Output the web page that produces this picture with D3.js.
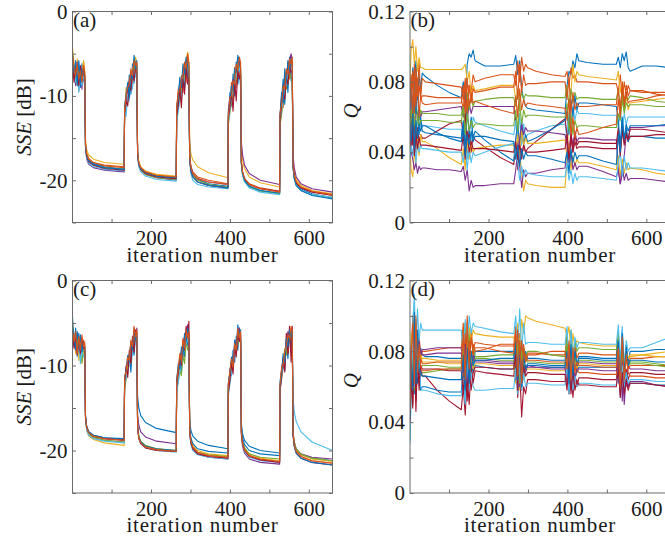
<!DOCTYPE html>
<html>
<head>
<meta charset="utf-8">
<script src="https://cdn.jsdelivr.net/npm/d3@7/dist/d3.min.js"></script>
<style>
  html, body { margin: 0; padding: 0; background: #fff; }
  svg { display: block; }
  svg text { font-family: "Liberation Serif", "Times New Roman", serif; }
</style>
</head>
<body>
<div id="chart"></div>
<script>
// MATLAB default line colour order
const lineColors = ["#0072BD", "#D95319", "#EDB120", "#7E2F8E", "#77AC30", "#4DBEEE", "#A2142F"];

// Iterations at which the SSE curves are sampled (5 training cycles)
const sseIter = [
  1, 5, 9, 13, 17, 21, 25, 29, 32, 34, 37, 42, 54, 82, 132,
  133, 137, 141, 145, 149, 153, 157, 161, 164, 166, 169, 174, 186, 214, 264,
  265, 269, 273, 277, 281, 285, 289, 293, 296, 298, 301, 306, 318, 346, 395,
  396, 400, 404, 408, 412, 416, 420, 424, 427, 429, 432, 437, 449, 477, 526,
  527, 531, 535, 539, 543, 547, 551, 555, 558, 560, 563, 568, 580, 608, 660
];

// Iterations at which the Q curves are sampled
const qIter = [
  1, 4, 8, 12, 16, 20, 24, 28, 32, 40, 70, 100,
  131, 136, 141, 146, 151, 156, 161, 166, 190, 230,
  264, 269, 274, 279, 284, 289, 294, 299, 320, 360,
  394, 399, 404, 409, 414, 419, 424, 429, 450, 490,
  524, 529, 534, 539, 544, 549, 554, 559, 590, 625, 660
];

// Axis ticks
const iterTicks = [100, 200, 300, 400, 500, 600];
const sseTicks = [-25, -20, -15, -10, -5, 0];
const qTicks = [0, 0.02, 0.04, 0.06, 0.08, 0.10, 0.12];

// (a) SSE [dB], one row per node
const sseA = [
  [-6.0,-7.5,-5.8,-8.2,-6.5,-9.0,-6.2,-8.0,-8.8,-15.8,-17.0,-17.6,-18.0,-18.4,-18.7,
   -12.0,-9.5,-10.8,-7.5,-9.8,-6.2,-8.5,-5.6,-7.0,-16.8,-18.0,-18.6,-19.1,-19.5,-19.8,
   -12.5,-10.0,-8.2,-10.5,-7.0,-9.2,-5.8,-7.8,-8.5,-17.2,-18.5,-19.3,-19.9,-20.4,-20.7,
   -12.8,-9.6,-11.2,-7.4,-10.0,-6.0,-8.6,-6.8,-9.0,-18.0,-19.2,-20.0,-20.7,-21.2,-21.6,
   -13.0,-10.2,-8.0,-11.0,-7.2,-9.6,-5.4,-8.2,-7.5,-18.4,-19.6,-20.4,-21.0,-21.6,-22.1],
  [-5.5,-8.0,-6.4,-7.2,-9.4,-6.8,-8.6,-6.0,-7.4,-15.6,-16.8,-17.4,-17.9,-18.2,-18.4,
   -11.5,-10.4,-8.6,-9.8,-6.8,-8.8,-5.8,-7.4,-6.2,-16.6,-17.9,-18.5,-19.0,-19.4,-19.6,
   -11.8,-9.2,-10.8,-7.6,-9.6,-6.4,-8.4,-5.2,-7.2,-17.0,-18.3,-19.0,-19.6,-20.0,-20.4,
   -13.0,-11.0,-8.4,-10.6,-6.6,-9.0,-5.6,-7.6,-6.4,-17.8,-19.0,-19.8,-20.4,-20.9,-21.3,
   -12.6,-9.8,-11.4,-7.6,-9.2,-6.0,-8.0,-5.2,-6.8,-18.2,-19.4,-20.2,-20.8,-21.3,-21.7],
  [-4.2,-6.2,-7.8,-5.6,-8.4,-6.6,-7.6,-5.8,-7.0,-15.2,-16.4,-17.0,-17.5,-17.9,-18.1,
   -12.2,-9.0,-10.2,-8.0,-8.8,-6.6,-7.2,-5.4,-6.6,-16.6,-17.8,-18.4,-18.9,-19.3,-19.5,
   -11.0,-10.4,-8.8,-9.0,-7.4,-6.8,-5.6,-4.8,-6.0,-15.4,-16.8,-17.6,-18.4,-19.1,-19.7,
   -12.2,-10.8,-9.2,-9.8,-7.2,-8.0,-6.2,-5.8,-6.6,-16.2,-17.6,-18.6,-19.6,-20.3,-20.8,
   -13.4,-11.2,-9.4,-8.6,-7.8,-7.0,-6.2,-5.6,-6.4,-17.8,-19.0,-19.9,-20.6,-21.2,-21.6],
  [-6.4,-7.0,-8.8,-6.0,-8.2,-7.4,-9.2,-6.6,-8.0,-16.2,-17.5,-18.1,-18.5,-18.8,-19.0,
   -12.6,-10.8,-9.2,-8.2,-7.6,-7.8,-6.4,-6.0,-6.8,-17.0,-18.2,-18.8,-19.3,-19.7,-20.0,
   -12.0,-11.0,-9.6,-8.6,-8.0,-6.6,-7.0,-5.4,-6.2,-17.2,-18.4,-19.2,-19.8,-20.2,-20.5,
   -11.6,-10.2,-9.8,-8.0,-8.4,-6.8,-6.6,-5.8,-7.6,-15.4,-17.0,-18.2,-19.2,-20.0,-20.5,
   -12.4,-10.6,-9.8,-8.6,-7.2,-6.6,-6.0,-5.0,-6.0,-17.0,-18.5,-19.6,-20.4,-21.0,-21.4],
  [-5.8,-6.8,-7.8,-8.6,-7.0,-8.0,-7.2,-7.8,-8.2,-16.0,-17.2,-17.8,-18.2,-18.5,-18.7,
   -12.4,-11.0,-10.4,-9.4,-8.6,-7.4,-6.8,-6.0,-6.4,-17.0,-18.2,-18.8,-19.3,-19.7,-19.9,
   -12.8,-11.4,-10.2,-9.4,-8.4,-7.6,-6.8,-6.2,-6.6,-17.4,-18.7,-19.4,-20.0,-20.5,-20.8,
   -13.4,-12.0,-10.8,-9.6,-8.6,-7.8,-7.0,-6.4,-7.2,-18.0,-19.3,-20.1,-20.8,-21.3,-21.6,
   -13.6,-12.2,-10.6,-9.8,-8.8,-8.2,-7.4,-7.8,-8.6,-18.4,-19.7,-20.6,-21.2,-21.7,-22.0],
  [-6.8,-6.2,-8.4,-7.0,-9.6,-7.8,-8.8,-7.2,-8.4,-16.2,-17.4,-18.0,-18.4,-18.7,-18.9,
   -11.8,-12.4,-9.8,-10.6,-8.2,-9.2,-7.0,-7.8,-6.6,-17.2,-18.4,-19.0,-19.5,-19.9,-20.1,
   -13.2,-11.8,-10.6,-10.0,-8.6,-8.2,-7.0,-6.2,-7.0,-17.8,-19.2,-20.0,-20.5,-20.8,-21.0,
   -13.2,-11.6,-10.2,-9.2,-8.8,-7.4,-7.8,-6.6,-7.4,-18.2,-19.4,-20.2,-20.9,-21.4,-21.7,
   -12.8,-11.6,-10.4,-9.0,-8.8,-7.6,-6.8,-7.0,-7.8,-18.4,-19.8,-20.6,-21.2,-21.7,-22.0],
  [-6.2,-8.4,-6.8,-7.6,-8.8,-6.4,-8.2,-7.0,-7.6,-16.0,-17.2,-17.8,-18.2,-18.6,-18.8,
   -12.0,-10.6,-11.2,-8.4,-9.4,-7.0,-8.2,-6.2,-7.6,-16.9,-18.1,-18.7,-19.2,-19.6,-19.8,
   -12.4,-11.2,-9.0,-11.4,-8.0,-9.8,-6.4,-8.6,-7.8,-17.6,-18.9,-19.6,-20.2,-20.6,-20.9,
   -12.6,-11.4,-9.6,-11.8,-8.2,-10.6,-7.0,-8.0,-7.4,-17.8,-19.0,-19.8,-20.5,-21.0,-21.3,
   -13.2,-11.0,-9.6,-10.4,-7.8,-8.6,-6.4,-7.2,-7.0,-18.2,-19.5,-20.3,-20.9,-21.4,-21.8],
  [-5.0,-7.2,-6.0,-8.8,-5.8,-8.4,-6.8,-7.4,-7.8,-15.9,-17.1,-17.7,-18.1,-18.5,-18.7,
   -11.2,-9.8,-8.4,-10.2,-7.2,-8.0,-5.2,-6.8,-5.8,-16.8,-18.0,-18.6,-19.1,-19.5,-19.7,
   -11.4,-10.2,-7.8,-9.0,-6.2,-7.4,-5.4,-6.6,-7.4,-17.6,-18.8,-19.6,-20.2,-20.6,-20.9,
   -12.0,-10.6,-8.8,-9.4,-6.8,-7.2,-5.2,-6.0,-6.8,-18.0,-19.2,-20.0,-20.7,-21.2,-21.5,
   -12.2,-9.6,-10.8,-6.8,-8.4,-5.8,-7.0,-5.6,-6.4,-18.6,-19.8,-20.6,-21.2,-21.8,-22.2],
  [-5.2,-6.6,-7.6,-6.2,-8.0,-7.0,-8.4,-6.4,-7.2,-15.7,-16.9,-17.5,-17.9,-18.3,-18.5,
   -11.6,-10.0,-9.0,-8.6,-7.0,-7.6,-5.8,-6.4,-6.0,-16.7,-17.9,-18.5,-19.0,-19.4,-19.6,
   -11.2,-9.6,-9.4,-8.0,-7.6,-6.0,-6.8,-5.0,-6.4,-17.2,-18.5,-19.2,-19.8,-20.2,-20.5,
   -12.4,-10.2,-10.0,-8.2,-8.6,-6.2,-7.0,-5.4,-6.0,-17.8,-19.0,-19.8,-20.5,-21.0,-21.4,
   -12.0,-11.0,-8.8,-9.2,-6.8,-7.4,-5.6,-6.2,-5.4,-18.2,-19.4,-20.2,-20.8,-21.3,-21.7]
];

// (c) SSE [dB], one row per node
const sseC = [
  [-4.2,-7.6,-5.6,-8.4,-6.2,-9.0,-7.0,-8.6,-9.2,-16.0,-17.2,-17.8,-18.2,-18.5,-18.7,
   -12.4,-10.2,-11.0,-9.0,-10.8,-7.6,-8.8,-6.4,-7.4,-13.6,-15.0,-15.9,-16.7,-17.4,-17.9,
   -12.6,-10.6,-9.2,-10.8,-7.8,-9.0,-6.2,-7.6,-8.0,-16.4,-17.6,-18.3,-18.9,-19.4,-19.8,
   -13.0,-10.4,-11.2,-8.2,-9.6,-6.6,-8.2,-5.6,-7.2,-16.8,-18.0,-18.8,-19.5,-20.0,-20.3,
   -12.0,-10.8,-8.6,-10.6,-7.0,-9.2,-6.4,-7.8,-6.8,-18.0,-19.2,-19.9,-20.5,-20.9,-21.2],
  [-5.6,-6.8,-8.0,-6.4,-8.8,-6.6,-8.2,-7.0,-7.8,-16.2,-17.5,-18.1,-18.5,-18.8,-19.0,
   -12.0,-10.8,-9.6,-10.0,-7.8,-8.6,-6.2,-7.0,-6.0,-17.2,-18.5,-19.1,-19.6,-19.9,-20.1,
   -11.6,-10.2,-10.6,-8.4,-9.2,-6.8,-7.4,-5.6,-6.8,-17.6,-18.9,-19.6,-20.2,-20.6,-20.8,
   -12.4,-11.4,-9.6,-10.0,-7.6,-8.4,-6.0,-6.8,-6.2,-17.8,-19.1,-19.9,-20.6,-21.1,-21.3,
   -13.0,-11.6,-9.4,-10.2,-7.6,-8.6,-6.2,-7.0,-5.8,-18.0,-19.3,-20.1,-20.7,-21.2,-21.5],
  [-5.0,-7.0,-8.6,-7.2,-9.4,-8.0,-9.8,-8.4,-9.0,-16.4,-17.7,-18.3,-18.7,-19.1,-19.4,
   -12.6,-11.2,-10.2,-9.2,-8.4,-7.6,-6.8,-6.2,-6.6,-17.2,-18.4,-19.0,-19.5,-19.8,-20.0,
   -12.2,-11.0,-10.0,-9.0,-8.2,-7.2,-6.6,-5.8,-6.4,-17.4,-18.7,-19.4,-20.0,-20.4,-20.6,
   -12.8,-11.6,-10.4,-9.6,-8.4,-7.6,-6.8,-6.2,-6.8,-17.6,-18.9,-19.7,-20.4,-20.9,-21.2,
   -12.6,-11.4,-10.2,-9.4,-8.2,-7.6,-6.6,-6.0,-6.6,-17.8,-19.1,-19.9,-20.5,-21.0,-21.3],
  [-6.0,-7.4,-6.2,-8.2,-7.0,-8.6,-6.8,-7.6,-8.2,-16.0,-17.2,-17.9,-18.3,-18.6,-18.8,
   -11.8,-10.4,-9.4,-8.8,-7.4,-7.8,-6.0,-6.6,-5.6,-15.8,-17.0,-17.8,-18.4,-18.9,-19.2,
   -12.0,-10.8,-9.6,-8.4,-7.8,-6.6,-6.0,-5.2,-6.2,-17.8,-19.1,-19.8,-20.4,-20.8,-21.0,
   -12.2,-11.0,-9.8,-9.0,-7.8,-7.0,-6.2,-5.6,-6.4,-18.2,-19.5,-20.3,-21.0,-21.4,-21.6,
   -13.0,-11.4,-10.2,-8.4,-7.6,-6.0,-6.6,-5.8,-6.4,-17.8,-19.0,-19.8,-20.4,-20.8,-21.0],
  [-5.4,-6.4,-7.6,-6.8,-8.4,-7.6,-9.6,-7.4,-8.6,-16.2,-17.4,-18.0,-18.4,-18.8,-19.0,
   -12.8,-11.6,-10.6,-8.6,-9.6,-7.2,-8.0,-6.4,-7.0,-17.0,-18.3,-18.9,-19.4,-19.8,-20.0,
   -13.0,-11.8,-10.6,-11.2,-8.8,-9.8,-7.2,-8.2,-7.6,-17.6,-18.9,-19.6,-20.2,-20.5,-20.7,
   -12.6,-11.0,-10.6,-9.2,-9.0,-7.4,-7.6,-6.4,-7.0,-17.6,-18.9,-19.7,-20.4,-20.8,-21.0,
   -12.4,-11.2,-9.8,-8.0,-8.8,-6.8,-7.2,-6.0,-6.6,-17.8,-19.0,-19.8,-20.4,-20.9,-21.2],
  [-6.4,-7.8,-6.6,-9.0,-7.4,-9.8,-8.2,-9.0,-8.8,-16.4,-17.6,-18.2,-18.6,-18.9,-19.1,
   -12.2,-11.4,-10.8,-9.8,-8.6,-8.8,-7.2,-7.4,-6.8,-17.4,-18.6,-19.2,-19.7,-20.0,-20.2,
   -13.2,-12.0,-10.8,-9.8,-8.8,-8.0,-7.4,-6.8,-7.6,-18.0,-19.3,-20.0,-20.5,-20.8,-21.0,
   -13.6,-12.2,-10.8,-10.0,-9.0,-8.0,-7.0,-6.4,-7.2,-18.0,-19.3,-20.1,-20.8,-21.2,-21.4,
   -11.8,-10.6,-9.6,-8.8,-7.8,-7.0,-6.4,-5.8,-6.2,-13.8,-15.4,-16.6,-17.8,-19.0,-20.0],
  [-6.2,-8.0,-6.8,-8.8,-7.2,-8.6,-7.0,-8.0,-7.6,-16.1,-17.3,-17.9,-18.3,-18.6,-18.8,
   -12.2,-10.0,-11.4,-8.2,-9.8,-6.6,-8.4,-5.8,-7.2,-17.3,-18.6,-19.2,-19.7,-20.0,-20.1,
   -12.4,-10.8,-9.0,-10.0,-7.0,-8.2,-5.4,-6.4,-4.8,-17.8,-19.1,-19.8,-20.4,-20.7,-20.9,
   -13.2,-11.8,-9.6,-11.0,-7.8,-9.0,-6.4,-7.2,-6.6,-17.9,-19.2,-20.0,-20.7,-21.1,-21.4,
   -12.8,-10.4,-9.2,-10.8,-6.2,-8.6,-5.4,-9.6,-5.4,-18.2,-19.5,-20.3,-20.9,-21.4,-21.7],
  [-5.2,-6.6,-8.2,-6.0,-8.0,-6.4,-8.4,-7.2,-8.0,-16.0,-17.2,-17.8,-18.2,-18.5,-18.6,
   -11.6,-10.4,-8.8,-9.6,-7.2,-8.2,-5.6,-7.0,-6.2,-17.1,-18.4,-19.0,-19.5,-19.8,-20.0,
   -11.8,-9.8,-10.4,-7.8,-8.8,-6.2,-7.2,-5.6,-6.6,-17.2,-18.5,-19.2,-19.8,-20.1,-20.3,
   -12.0,-10.8,-9.0,-9.8,-7.0,-8.0,-5.2,-6.6,-5.8,-17.2,-18.5,-19.3,-20.0,-20.4,-20.6,
   -12.6,-11.0,-9.0,-9.6,-6.8,-7.8,-5.8,-6.6,-6.0,-18.2,-19.5,-20.3,-20.9,-21.4,-21.7],
  [-5.8,-7.2,-6.0,-8.6,-6.6,-8.2,-6.4,-7.8,-7.2,-16.1,-17.3,-17.9,-18.3,-18.6,-18.8,
   -11.4,-10.6,-9.0,-9.4,-7.0,-7.8,-5.4,-6.6,-5.8,-17.2,-18.5,-19.1,-19.6,-19.9,-20.1,
   -12.0,-10.4,-8.6,-9.6,-6.8,-8.0,-5.8,-6.8,-6.0,-17.6,-18.9,-19.6,-20.2,-20.6,-20.8,
   -12.2,-10.6,-9.2,-10.2,-7.4,-8.2,-5.6,-6.8,-6.0,-17.8,-19.1,-19.9,-20.6,-21.0,-21.3,
   -12.2,-10.2,-9.8,-8.4,-7.6,-6.4,-6.8,-5.4,-6.0,-18.0,-19.3,-20.1,-20.7,-21.2,-21.5]
];

// (b) Q per node
const qB = [
  [.060,.072,.088,.080,.092,.070,.084,.076,.085,.083,.078,.074,.071,.080,.068,.090,.096,.094,.098,.092,.089,.089,.090,.095,.084,.092,.076,.070,.066,.065,.064,.063,.062,.078,.086,.084,.092,.088,.096,.092,.091,.090,.090,.094,.088,.096,.092,.097,.088,.086,.089,.089,.088],
  [.058,.066,.084,.062,.088,.074,.092,.070,.082,.080,.079,.078,.077,.070,.082,.066,.078,.074,.084,.080,.082,.084,.084,.078,.092,.080,.094,.086,.090,.088,.086,.084,.083,.086,.078,.088,.082,.084,.080,.080,.080,.079,.079,.074,.084,.070,.080,.072,.078,.075,.074,.074,.074],
  [.080,.098,.104,.090,.100,.086,.094,.088,.088,.087,.087,.087,.087,.088,.090,.080,.086,.072,.078,.075,.076,.078,.078,.070,.062,.040,.028,.018,.024,.022,.021,.020,.020,.036,.062,.074,.090,.080,.086,.084,.083,.082,.081,.086,.074,.080,.066,.072,.064,.068,.069,.070,.071],
  [.062,.056,.070,.050,.066,.058,.064,.060,.063,.063,.064,.065,.066,.060,.070,.058,.068,.062,.066,.066,.066,.066,.066,.058,.044,.032,.020,.030,.026,.028,.028,.030,.031,.042,.036,.050,.044,.052,.046,.048,.048,.047,.047,.030,.022,.028,.038,.050,.046,.054,.054,.055,.055],
  [.064,.060,.068,.056,.066,.062,.058,.064,.062,.062,.062,.061,.061,.066,.058,.074,.064,.072,.066,.069,.070,.071,.071,.066,.076,.068,.074,.070,.073,.072,.072,.071,.071,.078,.066,.076,.068,.074,.070,.071,.071,.070,.070,.076,.066,.074,.064,.072,.070,.072,.071,.069,.068],
  [.040,.048,.044,.056,.046,.060,.052,.058,.055,.055,.054,.053,.053,.044,.058,.036,.050,.046,.060,.057,.055,.052,.050,.058,.046,.062,.044,.056,.048,.050,.052,.055,.056,.048,.062,.052,.066,.058,.064,.062,.062,.061,.061,.054,.064,.052,.062,.056,.060,.060,.060,.060,.060],
  [.050,.062,.044,.058,.040,.054,.046,.050,.048,.048,.052,.056,.058,.050,.062,.044,.052,.040,.050,.047,.043,.037,.033,.044,.030,.046,.036,.044,.040,.042,.046,.053,.059,.050,.038,.052,.040,.050,.044,.046,.046,.045,.045,.054,.040,.056,.046,.052,.048,.053,.053,.052,.051],
  [.070,.082,.058,.088,.062,.080,.050,.060,.052,.051,.050,.049,.048,.058,.042,.064,.050,.060,.048,.052,.047,.040,.035,.048,.056,.040,.058,.044,.050,.046,.048,.053,.058,.064,.050,.070,.060,.072,.064,.068,.068,.067,.066,.058,.044,.060,.046,.054,.046,.049,.049,.048,.048],
  [.068,.076,.086,.066,.082,.072,.078,.070,.072,.072,.071,.071,.071,.064,.080,.062,.078,.068,.076,.074,.075,.077,.077,.086,.070,.090,.074,.084,.078,.079,.079,.080,.080,.070,.082,.062,.074,.064,.068,.066,.066,.067,.067,.076,.062,.078,.066,.074,.068,.069,.070,.072,.073],
  [.042,.030,.026,.040,.034,.048,.038,.050,.046,.046,.042,.037,.033,.042,.030,.048,.036,.046,.040,.042,.043,.044,.044,.036,.050,.040,.052,.044,.048,.045,.045,.046,.047,.036,.044,.030,.038,.032,.036,.034,.034,.032,.030,.038,.026,.036,.028,.034,.030,.031,.030,.028,.027],
  [.046,.040,.036,.030,.034,.028,.032,.030,.031,.031,.030,.030,.029,.032,.024,.030,.018,.024,.020,.021,.021,.022,.022,.030,.040,.048,.056,.050,.054,.052,.052,.051,.050,.044,.034,.040,.030,.034,.030,.032,.032,.029,.026,.030,.022,.032,.024,.028,.024,.025,.025,.024,.023],
  [.054,.064,.050,.060,.048,.062,.054,.058,.058,.058,.058,.057,.057,.066,.050,.062,.052,.058,.054,.056,.056,.055,.055,.064,.052,.068,.056,.064,.060,.061,.061,.060,.060,.068,.052,.062,.050,.058,.054,.055,.055,.054,.054,.062,.058,.070,.062,.068,.066,.067,.067,.066,.066],
  [.036,.044,.038,.048,.034,.046,.040,.044,.042,.042,.041,.040,.040,.034,.044,.030,.042,.034,.040,.038,.040,.043,.045,.038,.034,.024,.032,.026,.030,.028,.027,.026,.026,.034,.024,.030,.022,.028,.024,.026,.026,.025,.024,.034,.040,.026,.038,.030,.034,.031,.031,.030,.029],
  [.052,.044,.056,.038,.052,.042,.048,.044,.044,.044,.043,.042,.041,.050,.036,.052,.040,.046,.042,.042,.042,.041,.040,.046,.036,.044,.038,.044,.040,.040,.040,.041,.042,.050,.036,.048,.040,.046,.042,.043,.043,.042,.042,.050,.038,.052,.044,.050,.047,.049,.049,.050,.050],
  [.056,.046,.062,.042,.058,.048,.056,.052,.055,.055,.051,.048,.046,.054,.038,.050,.044,.052,.046,.049,.049,.047,.046,.036,.044,.032,.042,.036,.040,.038,.038,.036,.034,.040,.028,.042,.034,.040,.036,.038,.038,.035,.033,.050,.040,.058,.048,.056,.052,.055,.055,.055,.056],
  [.074,.084,.062,.090,.066,.082,.060,.072,.068,.067,.068,.068,.068,.078,.062,.082,.066,.074,.068,.069,.067,.064,.062,.072,.060,.076,.064,.070,.066,.068,.067,.066,.065,.058,.070,.050,.060,.048,.054,.050,.051,.054,.056,.070,.060,.080,.068,.078,.072,.075,.075,.073,.072]
];

// (d) Q per node
const qD = [
  [.045,.086,.062,.100,.058,.090,.066,.082,.078,.077,.077,.076,.076,.088,.062,.084,.058,.080,.070,.080,.080,.080,.080,.066,.090,.062,.086,.070,.080,.076,.076,.075,.075,.086,.064,.090,.062,.082,.072,.077,.077,.076,.076,.088,.062,.092,.066,.084,.074,.080,.080,.081,.081],
  [.040,.078,.100,.066,.096,.070,.090,.076,.080,.080,.081,.082,.082,.096,.070,.100,.074,.092,.080,.085,.084,.083,.083,.094,.066,.090,.062,.084,.074,.079,.079,.078,.078,.090,.066,.088,.064,.084,.076,.079,.079,.078,.078,.090,.064,.088,.068,.082,.072,.076,.076,.077,.077],
  [.050,.090,.070,.104,.062,.086,.068,.078,.074,.074,.074,.073,.073,.084,.096,.078,.094,.086,.092,.090,.089,.088,.088,.080,.096,.082,.098,.090,.100,.099,.097,.095,.093,.088,.094,.080,.090,.082,.086,.085,.084,.083,.083,.090,.072,.086,.070,.080,.076,.078,.078,.077,.077],
  [.042,.070,.088,.064,.092,.072,.086,.078,.081,.081,.082,.082,.082,.070,.086,.064,.080,.068,.076,.074,.074,.073,.073,.082,.060,.078,.058,.076,.068,.072,.071,.070,.070,.080,.060,.082,.062,.078,.070,.074,.074,.073,.073,.062,.080,.052,.076,.060,.072,.070,.070,.069,.069],
  [.038,.074,.096,.060,.088,.064,.080,.066,.068,.068,.069,.070,.070,.084,.096,.072,.090,.074,.082,.077,.077,.078,.078,.088,.070,.086,.066,.082,.076,.080,.080,.078,.077,.088,.072,.092,.076,.086,.080,.082,.082,.081,.081,.090,.070,.086,.066,.080,.072,.074,.074,.073,.072],
  [.028,.064,.096,.112,.080,.104,.086,.096,.092,.092,.092,.092,.092,.078,.098,.084,.100,.090,.096,.094,.093,.091,.090,.100,.078,.104,.080,.096,.084,.085,.085,.084,.084,.094,.072,.092,.076,.088,.082,.085,.085,.084,.084,.095,.074,.094,.072,.086,.080,.082,.082,.085,.088],
  [.044,.072,.050,.084,.046,.076,.058,.070,.066,.066,.058,.052,.047,.060,.044,.066,.050,.072,.062,.069,.068,.067,.066,.076,.054,.070,.043,.060,.056,.064,.064,.063,.063,.074,.056,.070,.054,.068,.060,.065,.065,.064,.064,.076,.056,.072,.058,.070,.064,.068,.068,.067,.067],
  [.034,.066,.084,.056,.092,.062,.076,.058,.060,.060,.058,.057,.057,.070,.054,.076,.062,.074,.068,.072,.071,.070,.070,.084,.062,.080,.060,.076,.070,.073,.073,.072,.072,.082,.062,.078,.064,.074,.068,.071,.071,.071,.071,.080,.060,.076,.058,.068,.060,.062,.062,.061,.061],
  [.048,.084,.066,.098,.070,.088,.072,.076,.073,.073,.074,.074,.074,.066,.090,.070,.086,.074,.084,.080,.081,.084,.084,.072,.092,.068,.086,.072,.078,.075,.075,.074,.074,.062,.080,.060,.074,.064,.070,.068,.068,.067,.067,.078,.062,.084,.064,.076,.070,.072,.072,.072,.072],
  [.052,.080,.094,.070,.088,.074,.082,.078,.076,.076,.075,.075,.075,.086,.066,.080,.064,.076,.070,.073,.073,.072,.072,.062,.080,.058,.076,.064,.072,.070,.070,.069,.069,.078,.062,.080,.066,.076,.070,.073,.073,.072,.072,.082,.066,.086,.070,.080,.076,.077,.078,.079,.080],
  [.046,.082,.064,.094,.072,.086,.076,.080,.078,.078,.079,.079,.079,.068,.084,.062,.080,.070,.078,.075,.075,.074,.074,.064,.080,.060,.076,.066,.072,.071,.071,.071,.071,.062,.078,.058,.074,.064,.070,.070,.070,.069,.069,.078,.058,.074,.050,.066,.060,.063,.063,.061,.060],
  [.036,.062,.080,.058,.086,.066,.078,.070,.072,.072,.072,.071,.071,.082,.062,.088,.066,.080,.072,.076,.076,.075,.075,.066,.084,.062,.080,.070,.076,.074,.074,.073,.073,.084,.064,.080,.066,.078,.072,.075,.075,.074,.074,.084,.064,.080,.068,.076,.072,.073,.073,.072,.071],
  [.030,.056,.088,.060,.098,.066,.076,.060,.058,.058,.056,.055,.055,.064,.050,.076,.058,.068,.060,.058,.058,.059,.059,.070,.056,.074,.058,.068,.060,.062,.062,.061,.061,.072,.056,.070,.058,.066,.060,.062,.062,.061,.061,.070,.054,.072,.058,.068,.062,.064,.064,.063,.063],
  [.040,.066,.048,.080,.052,.074,.062,.072,.070,.070,.070,.069,.069,.056,.074,.052,.070,.058,.068,.071,.071,.070,.070,.078,.058,.082,.062,.072,.066,.068,.068,.067,.067,.058,.074,.056,.070,.058,.064,.061,.061,.060,.060,.070,.054,.068,.056,.064,.058,.062,.062,.061,.060],
  [.042,.074,.058,.102,.062,.092,.070,.068,.066,.066,.065,.064,.064,.078,.058,.082,.062,.080,.072,.075,.075,.076,.076,.086,.064,.082,.060,.078,.070,.072,.072,.071,.071,.080,.062,.084,.066,.080,.072,.076,.076,.075,.075,.086,.064,.090,.068,.082,.072,.075,.075,.074,.074],
  [.046,.076,.096,.062,.100,.068,.084,.072,.069,.069,.070,.070,.070,.090,.064,.096,.070,.088,.078,.082,.082,.080,.079,.092,.066,.086,.062,.082,.074,.078,.078,.080,.080,.070,.086,.064,.082,.068,.074,.072,.072,.071,.071,.082,.060,.088,.064,.078,.068,.066,.066,.065,.065]
];

const W = 665, H = 538;
const FONT = '"Liberation Serif", "Times New Roman", serif';
const axisColor = "#6b6b6b";
const textColor = "#1a1a1a";
const tickLen = 3.5;

const sseFmt = d => (d % 10 === 0 ? String(d) : "");
const qFmt = d => (Math.round(d * 100) % 4 === 0 ? (d === 0 ? "0" : d.toFixed(2)) : "");

const panels = [
  { tag: "(a)", left: 72.5, top: 11.5, width: 260, height: 211, iter: sseIter, series: sseA,
    yDomain: [-25, 0], yTicks: sseTicks, yFmt: sseFmt, yTitle: "sse" },
  { tag: "(b)", left: 410, top: 11.5, width: 260, height: 211, iter: qIter, series: qB,
    yDomain: [0, 0.12], yTicks: qTicks, yFmt: qFmt, yTitle: "q" },
  { tag: "(c)", left: 72.5, top: 280.5, width: 260, height: 212.5, iter: sseIter, series: sseC,
    yDomain: [-25, 0], yTicks: sseTicks, yFmt: sseFmt, yTitle: "sse" },
  { tag: "(d)", left: 410, top: 280.5, width: 260, height: 212.5, iter: qIter, series: qD,
    yDomain: [0, 0.12], yTicks: qTicks, yFmt: qFmt, yTitle: "q" }
];

const svg = d3.select("#chart").append("svg")
  .attr("width", W).attr("height", H)
  .style("background", "#fff");

function styleAxis(g) {
  g.select(".domain").remove();
  g.attr("font-family", null).style("font-family", FONT);
  g.selectAll(".tick line").attr("stroke", axisColor).attr("stroke-width", 1);
  g.selectAll(".tick text")
    .attr("fill", textColor)
    .attr("font-size", 21)
    .style("font-family", FONT);
}

panels.forEach((p, pi) => {
  const x = d3.scaleLinear().domain([1, 660]).range([p.left, p.left + p.width]);
  const y = d3.scaleLinear().domain(p.yDomain).range([p.top + p.height, p.top]);
  const bottom = p.top + p.height, right = p.left + p.width;

  const clipId = "clip" + pi;
  svg.append("clipPath").attr("id", clipId)
    .append("rect")
    .attr("x", p.left).attr("y", p.top)
    .attr("width", p.width).attr("height", p.height);

  // one line per node
  const line = d3.line()
    .x(d => x(d[0]))
    .y(d => y(d[1]));

  const lines = svg.append("g").attr("clip-path", `url(#${clipId})`);
  p.series.forEach((vals, i) => {
    lines.append("path")
      .datum(d3.zip(p.iter, vals))
      .attr("d", line)
      .attr("fill", "none")
      .attr("stroke", lineColors[i % lineColors.length])
      .attr("stroke-width", 1.1)
      .attr("stroke-linejoin", "round");
  });

  // box
  svg.append("rect")
    .attr("x", p.left).attr("y", p.top)
    .attr("width", p.width).attr("height", p.height)
    .attr("fill", "none").attr("stroke", axisColor).attr("stroke-width", 1);

  // inward ticks on all four sides, labels on left and bottom
  svg.append("g").attr("transform", `translate(0,${bottom})`)
    .call(d3.axisBottom(x).tickValues(iterTicks).tickSizeInner(-tickLen).tickSizeOuter(0)
      .tickPadding(8).tickFormat(d => (d % 200 === 0 ? String(d) : "")))
    .call(styleAxis);
  svg.append("g").attr("transform", `translate(0,${p.top})`)
    .call(d3.axisTop(x).tickValues(iterTicks).tickSizeInner(-tickLen).tickSizeOuter(0).tickFormat(""))
    .call(styleAxis);
  svg.append("g").attr("transform", `translate(${p.left},0)`)
    .call(d3.axisLeft(y).tickValues(p.yTicks).tickSizeInner(-tickLen).tickSizeOuter(0)
      .tickPadding(5).tickFormat(p.yFmt))
    .call(styleAxis);
  svg.append("g").attr("transform", `translate(${right},0)`)
    .call(d3.axisRight(y).tickValues(p.yTicks).tickSizeInner(-tickLen).tickSizeOuter(0).tickFormat(""))
    .call(styleAxis);

  // x title
  svg.append("text")
    .attr("x", p.left + p.width / 2)
    .attr("y", bottom + 39)
    .attr("text-anchor", "middle")
    .attr("font-size", 21)
    .attr("letter-spacing", "0.8px")
    .attr("fill", textColor)
    .text("iteration number");

  // y title
  const midY = p.top + p.height / 2;
  if (p.yTitle === "sse") {
    const t = svg.append("text")
      .attr("transform", `translate(31,${midY}) rotate(-90)`)
      .attr("text-anchor", "middle")
      .attr("font-size", 21)
      .attr("fill", textColor);
    t.append("tspan").attr("font-style", "italic").text("SSE");
    t.append("tspan").text(" [dB]");
  } else {
    svg.append("text")
      .attr("transform", `translate(358,${midY - 6}) rotate(-90)`)
      .attr("text-anchor", "middle")
      .attr("font-size", 21)
      .attr("font-style", "italic")
      .attr("fill", textColor)
      .text("Q");
  }

  // panel tag
  svg.append("text")
    .attr("x", p.left + 0.5)
    .attr("y", p.top + 15)
    .attr("font-size", 21)
    .attr("fill", textColor)
    .text(p.tag);
});
</script>
</body>
</html>
